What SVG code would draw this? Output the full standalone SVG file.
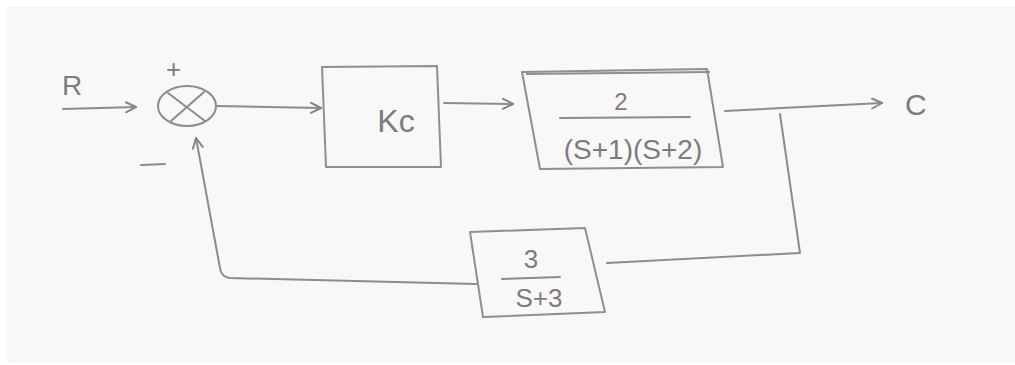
<svg xmlns="http://www.w3.org/2000/svg" width="1015" height="365" viewBox="0 0 1015 365">
<defs>
<marker id="arr" viewBox="0 0 12 12" refX="11" refY="6" markerWidth="12" markerHeight="12" markerUnits="userSpaceOnUse" orient="auto">
<path d="M1,1 L11,6 L1,11" fill="none" stroke="#858585" stroke-width="2" stroke-linecap="round" stroke-linejoin="round"/>
</marker>
<style>
.ln{fill:none;stroke:#8c8c8c;stroke-width:2;stroke-linecap:round;stroke-linejoin:round}
.bx{fill:none;stroke:#8f8f8f;stroke-width:2;stroke-linejoin:round}
.tx{font-family:"Liberation Sans",Arial,sans-serif;fill:#7c7c7c}
</style>
</defs>
<rect x="0" y="0" width="1015" height="365" fill="#ffffff"/>
<rect x="7" y="7" width="1008" height="356" fill="#f9f7f8"/>
<g id="connectors">
<path class="ln" d="M63,109 L136,107" marker-end="url(#arr)"/>
<path class="ln" d="M217,106 L321,108" marker-end="url(#arr)"/>
<path class="ln" d="M444,103 L513,104" marker-end="url(#arr)"/>
<path class="ln" d="M725,111 L882,103" marker-end="url(#arr)"/>
<path class="ln" d="M780,114 L800,253 L607,263"/>
<path class="ln" d="M476,284 L230,278 Q221,277 220,268 L196,138" marker-end="url(#arr)"/>
</g>
<g id="input-R">
<text class="tx" x="62" y="95" font-size="28">R</text>
</g>
<g id="sum-junction">
<ellipse class="ln" cx="187" cy="106" rx="29" ry="20"/>
<path class="ln" d="M168,93 L205,121 M171,121 L204,92"/>
<text class="tx" x="166" y="78" font-size="26">+</text>
<path class="ln" d="M141,165 L165,164"/>
</g>
<g id="block-Kc">
<path class="bx" d="M322,67 L437,66 L441,167 L326,167 Z"/>
<text class="tx" x="396" y="132" font-size="32" text-anchor="middle">Kc</text>
</g>
<g id="block-G">
<path class="bx" d="M522,72 L707,69 L723,167 L540,169 Z"/>
<path class="bx" d="M526,74 L710,72" stroke-width="1.2"/>
<text class="tx" x="621" y="110" font-size="24" text-anchor="middle">2</text>
<path class="ln" d="M560,118 L690,117"/>
<text class="tx" x="633" y="159" font-size="28" text-anchor="middle">(S+1)(S+2)</text>
</g>
<g id="block-H">
<path class="bx" d="M470,232 L585,228 L605,312 L483,317 Z"/>
<text class="tx" x="531" y="268" font-size="26" text-anchor="middle">3</text>
<path class="ln" d="M502,279 L560,277"/>
<text class="tx" x="539" y="307" font-size="26" text-anchor="middle">S+3</text>
</g>
<g id="output-C">
<text class="tx" x="905" y="115" font-size="30">C</text>
</g>
</svg>
